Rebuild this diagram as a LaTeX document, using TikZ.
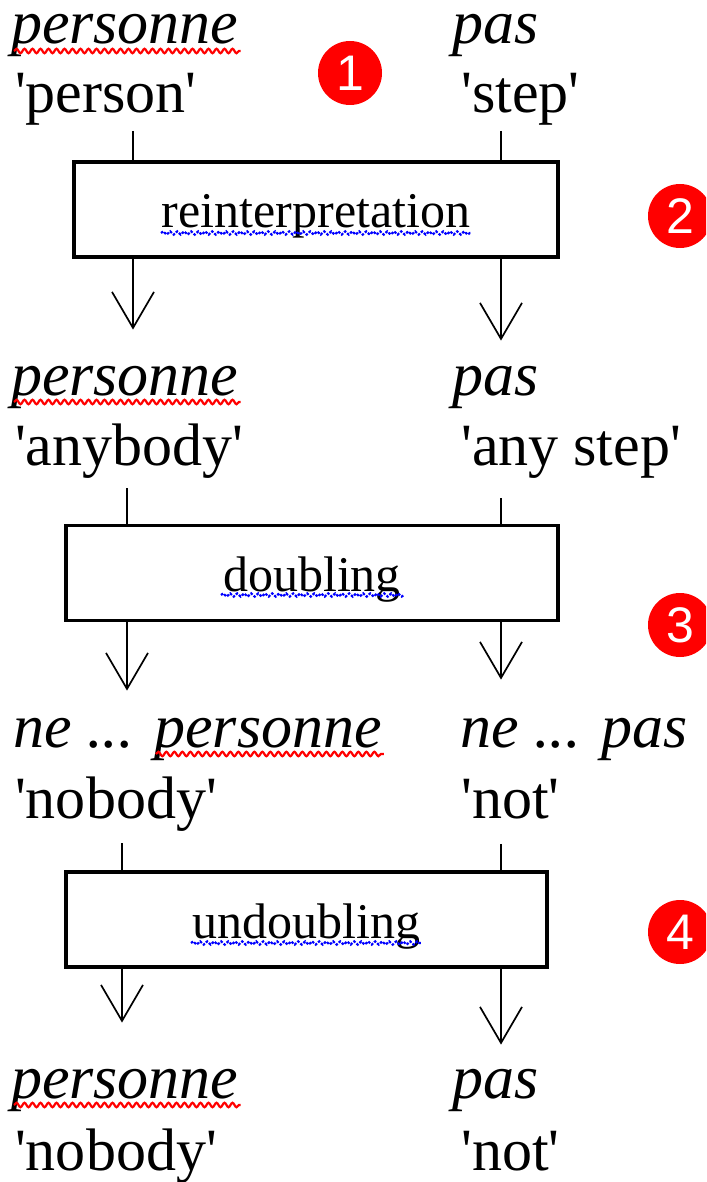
\documentclass[tikz,border=0pt]{standalone}
\usepackage{fontspec}
\setmainfont{Liberation Serif}[Ligatures=TeXOff]
\newfontfamily\numfont{Liberation Sans}
\usetikzlibrary{arrows.meta,calc,decorations.pathmorphing}
\begin{document}
\begin{tikzpicture}[x=1pt,y=1pt,
  lab/.style={anchor=base west,inner sep=0pt,font=\fontsize{60}{60}\selectfont},
  ital/.style={anchor=base west,inner sep=0pt,font=\fontsize{62}{62}\selectfont\itshape},
  procbox/.style={draw,line width=3.5pt,minimum height=95pt,inner sep=0pt,
    text height=37pt,text depth=0pt,font=\fontsize{50}{50}\selectfont},
  num/.style={circle,fill=red,minimum size=64pt,inner sep=0pt,text=white,
    font=\numfont\fontsize{50}{50}\selectfont},
  conn/.style={line width=2pt},
  arr/.style={line width=2pt,-{Straight Barb[length=36pt,width=42pt,line width=1.7pt]}},
  spell/.style={red,line width=2.2pt,decorate,decoration={snake,segment length=8pt,amplitude=2.2pt}},
  gram/.style={blue,line width=2.2pt,dash pattern=on 2.5pt off 1.5pt,decorate,decoration={snake,segment length=7pt,amplitude=1.6pt}},
]
\useasboundingbox (0,0) rectangle (706,-1182);
\clip (0,0) rectangle (706,-1182);

% column coordinates
\coordinate (LA) at (133,0);
\coordinate (LB) at (127,0);
\coordinate (LC) at (122,0);
\coordinate (R) at (501,0);

% row 1
\node[ital] (a1) at (11,-44) {personne};
\node[lab]  (g1) at (15,-113) {'person'};
\node[ital] (b1) at (452,-44) {pas};
\node[lab]  (h1) at (461,-113) {'step'};

% row 2
\node[ital] (a2) at (11,-395) {personne};
\node[lab]  (g2) at (15,-465) {'anybody'};
\node[ital] (b2) at (452,-395) {pas};
\node[lab]  (h2) at (461,-465) {'any step'};

% row 3
\node[ital] (a3) at (13,-747) {ne ... personne};
\node[lab]  (g3) at (15,-818) {'nobody'};
\node[ital] (b3) at (460,-747) {ne ... pas};
\node[lab]  (h3) at (461,-818) {'not'};

% row 4
\node[ital] (a4) at (11,-1098) {personne};
\node[lab]  (g4) at (15,-1170) {'nobody'};
\node[ital] (b4) at (452,-1098) {pas};
\node[lab]  (h4) at (461,-1170) {'not'};

% boxes
\node[procbox,minimum width=484pt] (box1) at (316,-209.5) {reinterpretation};
\node[procbox,minimum width=492pt] (box2) at (312,-573) {doubling};
\node[procbox,minimum width=481pt] (box3) at (306.5,-919.5) {undoubling};

% numbers
\node[num] (n1) at (350,-73) {1};
\node[num] (n2) at (680,-216) {2};
\node[num] (n3) at (680,-625) {3};
\node[num] (n4) at (680,-932) {4};

% connectors into boxes
\draw[conn] ($(g1.south -| LA)+(0,-5)$) -- (box1.north -| LA);
\draw[conn] ($(h1.south -| R)+(0,-5)$) -- (box1.north -| R);
\draw[conn] ($(g2.south -| LB)+(0,-10)$) -- (box2.north -| LB);
\draw[conn] ($(h2.south -| R)+(0,-20)$) -- (box2.north -| R);
\draw[conn] ($(g3.south -| LC)+(0,-12)$) -- (box3.north -| LC);
\draw[conn] ($(h3.south -| R)+(0,-25)$) -- (box3.north -| R);

% arrows out of boxes
\draw[arr] (box1.south -| LA) -- ($(a2.north -| LA)+(0,36)$);
\draw[arr] (box1.south -| R) -- ($(b2.north -| R)+(0,25)$);
\draw[arr] (box2.south -| LB) -- ($(a3.north -| LB)+(0,27)$);
\draw[arr] (box2.south -| R) -- ($(b3.north -| R)+(0,38)$);
\draw[arr] (box3.south -| LC) -- ($(a4.north -| LC)+(0,46)$);
\draw[arr] (box3.south -| R) -- ($(b4.north -| R)+(0,24)$);

% spell-check underlines
\draw[spell] ($(a1.base west)+(3,-7)$) -- ($(a1.base east)+(2,-7)$);
\draw[spell] ($(a2.base west)+(3,-7)$) -- ($(a2.base east)+(2,-7)$);
\draw[spell] ($(a4.base west)+(3,-7)$) -- ($(a4.base east)+(2,-7)$);
\draw[spell] ($(a3.base east)+(-226,-7)$) -- ($(a3.base east)+(2,-7)$);
\draw[gram] ($(box1.center)+(-155,-23.5)$) -- ($(box1.center)+(155,-23.5)$);
\draw[gram] ($(box2.center)+(-91,-22)$) -- ($(box2.center)+(92,-22)$);
\draw[gram] ($(box3.center)+(-115.5,-23.5)$) -- ($(box3.center)+(114.5,-23.5)$);
\end{tikzpicture}
\end{document}
